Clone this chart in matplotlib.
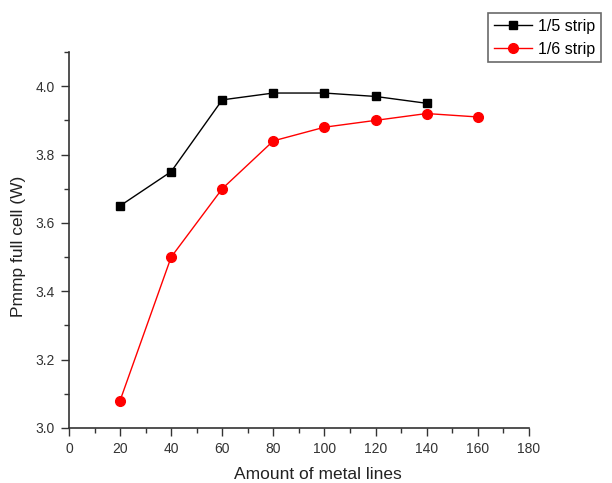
import matplotlib
matplotlib.use("Agg")
import matplotlib.pyplot as plt
from matplotlib.ticker import MultipleLocator

plt.rcParams['font.family'] = ['Liberation Sans', 'DejaVu Sans']

# metal line counts and Pmmp values
lines_15 = [20, 40, 60, 80, 100, 120, 140]
pmmp_15 = [3.65, 3.75, 3.96, 3.98, 3.98, 3.97, 3.95]

lines_16 = [20, 40, 60, 80, 100, 120, 140, 160]
pmmp_16 = [3.08, 3.50, 3.70, 3.84, 3.88, 3.90, 3.92, 3.91]

fig = plt.figure(figsize=(6.12, 4.83), dpi=100)
ax = fig.add_axes([0.1127, 0.1139, 0.7513, 0.7784])

ax.plot(lines_15, pmmp_15, color='black', marker='s', markersize=6, linewidth=1.0, label='1/5 strip')
ax.plot(lines_16, pmmp_16, color='red', marker='o', markersize=7, linewidth=1.0, label='1/6 strip')

ax.set_xlim(0, 180)
ax.set_ylim(3.0, 4.1)
ax.xaxis.set_major_locator(MultipleLocator(20))
ax.xaxis.set_minor_locator(MultipleLocator(10))
ax.yaxis.set_minor_locator(MultipleLocator(0.1))
ax.set_yticks([3.0, 3.2, 3.4, 3.6, 3.8, 4.0])
ax.set_yticklabels(['3.0', '3.2', '3.4', '3.6', '3.8', '4.0'])

ax.spines['top'].set_visible(False)
ax.spines['right'].set_visible(False)
for s in ['left', 'bottom']:
    ax.spines[s].set_color('#333333')
    ax.spines[s].set_linewidth(1.2)
ax.tick_params(which='major', direction='out', length=6, width=1, colors='#333333',
               labelsize=10, pad=4)
ax.tick_params(which='minor', direction='out', length=3.5, width=1, colors='#333333')

# axis titles sit a bit off-centre in the original
fig.text(0.5196, 0.017, 'Amount of metal lines', fontsize=12.5, color='#222222',
         ha='center', va='center')
fig.text(0.031, 0.489, 'Pmmp full cell (W)', fontsize=12.5, color='#222222',
         ha='center', va='center', rotation=90)

leg = fig.legend(loc='upper right', bbox_to_anchor=(0.982, 0.973), borderaxespad=0,
                 fontsize=11.5, frameon=True, fancybox=False, edgecolor='#444444',
                 handlelength=2.4, borderpad=0.35, labelspacing=0.5, handletextpad=0.4)
leg.get_frame().set_linewidth(1.2)

fig.savefig('out.png', dpi=100)
